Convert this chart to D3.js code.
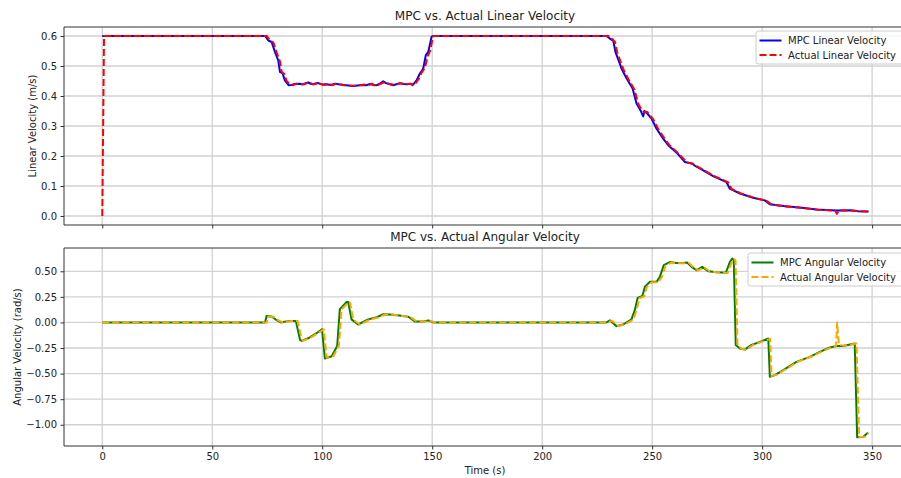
<!DOCTYPE html>
<html>
<head>
<meta charset="utf-8">
<script src="https://cdn.jsdelivr.net/npm/d3@7"></script>
<style>
  body { margin: 0; background: #fff; }
  svg { display: block; font-family: "DejaVu Sans", sans-serif; }
</style>
</head>
<body>
<svg class="Chart" width="901" height="478"></svg>
<script>
/* Data: [time (s), value] */
const mpcLinear = [
  [0, 0.6], [74, 0.6], [75.5, 0.585], [77, 0.58], [78.5, 0.547], [80, 0.519], [80.8, 0.48],
  [82, 0.475], [83, 0.452], [84.7, 0.436], [86, 0.437], [87.5, 0.44], [89.9, 0.441], [91, 0.438],
  [92.5, 0.443], [93.6, 0.445], [95, 0.44], [95.9, 0.439], [97, 0.442], [98.2, 0.443], [100, 0.438],
  [102, 0.439], [104, 0.437], [105.8, 0.441], [107.5, 0.439], [109.6, 0.437], [112, 0.435],
  [114.1, 0.433], [116, 0.435], [118.6, 0.437], [120, 0.436], [121.7, 0.44], [123, 0.437],
  [124.7, 0.436], [126, 0.44], [127.7, 0.449], [129, 0.443], [130, 0.441], [132.3, 0.436],
  [134, 0.44], [135.3, 0.443], [137, 0.44], [138.4, 0.439], [140, 0.441], [141.1, 0.436],
  [142.9, 0.452], [144.4, 0.475], [145.9, 0.491], [147.1, 0.536], [148.2, 0.547], [149.7, 0.597],
  [150.3, 0.6], [229.3, 0.6], [231, 0.59], [232.3, 0.585], [233.3, 0.547], [236.1, 0.491],
  [238.4, 0.458], [241.1, 0.425], [242.9, 0.375], [244.7, 0.352], [245.9, 0.332], [246.5, 0.35],
  [247.4, 0.345], [249.7, 0.325], [252, 0.291], [255, 0.258], [257.3, 0.236], [261.1, 0.211],
  [264.9, 0.18], [267.9, 0.175], [270, 0.165], [273.2, 0.152], [277.7, 0.133], [283.8, 0.113],
  [285.3, 0.091], [289.9, 0.075], [295.9, 0.061], [301.2, 0.052], [303.5, 0.039], [309.7, 0.033],
  [317.1, 0.028], [324.7, 0.022], [333.8, 0.018], [339.9, 0.019], [343.7, 0.016], [348.4, 0.015]
];
const actualLinear = [
  [0, 0], [0.8, 0.6], [74.8, 0.6], [76.3, 0.585], [77.8, 0.578], [79.3, 0.545], [80.8, 0.515],
  [81.6, 0.48], [82.8, 0.473], [83.8, 0.45], [85.5, 0.437], [86.8, 0.436], [88.3, 0.441],
  [90.7, 0.44], [91.8, 0.439], [93.3, 0.444], [94.4, 0.444], [95.8, 0.439], [96.7, 0.44],
  [97.8, 0.443], [99, 0.441], [100.8, 0.437], [102.8, 0.44], [104.8, 0.436], [106.6, 0.442],
  [108.3, 0.438], [110.4, 0.436], [112.8, 0.434], [114.9, 0.434], [116.8, 0.436], [119.4, 0.438],
  [120.8, 0.435], [122.5, 0.441], [123.8, 0.436], [125.5, 0.437], [126.8, 0.441], [128.5, 0.447],
  [129.8, 0.442], [130.8, 0.44], [133.1, 0.437], [134.8, 0.441], [136.1, 0.442], [137.8, 0.439],
  [139.2, 0.44], [140.8, 0.44], [141.9, 0.437], [143.7, 0.455], [145.2, 0.478], [146.7, 0.494],
  [147.9, 0.532], [149, 0.55], [150.4, 0.598], [151, 0.6], [230.1, 0.6], [231.8, 0.59],
  [233.1, 0.58], [234.1, 0.545], [236.9, 0.489], [239.2, 0.456], [241.9, 0.422], [243.7, 0.373],
  [245.5, 0.351], [246.7, 0.345], [247.8, 0.347], [248.2, 0.343], [250.5, 0.322], [252.8, 0.289],
  [255.8, 0.256], [258.1, 0.234], [261.9, 0.209], [265.7, 0.179], [268.7, 0.174], [270.8, 0.164],
  [274, 0.151], [278.5, 0.132], [284.6, 0.112], [286.1, 0.09], [290.7, 0.074], [296.7, 0.06],
  [302, 0.051], [304.3, 0.038], [310.5, 0.032], [317.9, 0.027], [325.5, 0.021], [333.2, 0.018],
  [334, 0.007], [334.8, 0.018], [340.7, 0.018], [344.5, 0.016], [348.4, 0.015]
];
const mpcAngular = [
  [0, 0], [74, 0], [74.7, 0.062], [77, 0.058], [79.3, 0.022], [81.2, 0], [83, 0.008],
  [85.3, 0.015], [88, 0.015], [89.9, -0.17], [90.6, -0.18], [93.6, -0.155], [96.7, -0.115],
  [99.9, -0.066], [101.2, -0.352], [104.3, -0.33], [106.8, -0.23], [108, 0.13], [111.1, 0.2],
  [111.8, 0.2], [113.3, 0.03], [116.3, -0.02], [120.9, 0.03], [124.7, 0.05], [127.7, 0.08],
  [130.8, 0.078], [135, 0.068], [139.1, 0.056], [142.1, 0.01], [146, 0.01], [148.2, 0.02],
  [150.5, 0], [229.3, 0], [230.8, 0.02], [233.8, -0.036], [236.8, -0.02], [240.6, 0.03],
  [242.1, 0.12], [243.4, 0.24], [245.6, 0.26], [246.7, 0.35], [249, 0.397], [252, 0.397],
  [253.5, 0.445], [255.3, 0.56], [258, 0.59], [261.1, 0.58], [264.1, 0.58], [265.9, 0.585],
  [267.9, 0.543], [270.2, 0.51], [272.7, 0.543], [275.5, 0.5], [279.3, 0.49], [283.5, 0.485],
  [285.3, 0.59], [286.4, 0.625], [287.1, 0.61], [288, -0.22], [289.9, -0.255], [292.1, -0.265],
  [295.2, -0.22], [299, -0.19], [302.8, -0.157], [303.5, -0.53], [305.8, -0.515], [309.6, -0.466],
  [315.6, -0.385], [321.7, -0.336], [326.2, -0.287], [330.8, -0.245], [333.8, -0.23],
  [336.8, -0.23], [342.1, -0.205], [343.2, -1.123], [345.9, -1.12], [348.2, -1.075]
];
const actualAngular = [
  [0, 0], [74.8, 0], [75.5, 0.058], [77.8, 0.055], [80.1, 0.02], [82, 0], [83.8, 0.008],
  [86.1, 0.014], [88.8, 0.014], [90.7, -0.165], [91.4, -0.178], [94.4, -0.152], [97.5, -0.112],
  [100.7, -0.068], [102, -0.345], [105.1, -0.328], [107.6, -0.225], [108.8, 0.128], [111.9, 0.198],
  [112.6, 0.196], [114.1, 0.028], [117.1, -0.02], [121.7, 0.028], [125.5, 0.048], [128.5, 0.078],
  [131.6, 0.077], [135.8, 0.066], [139.9, 0.054], [142.9, 0.01], [146.8, 0.01], [149, 0.018],
  [151.3, 0], [230.1, 0], [231.6, 0.018], [234.6, -0.034], [237.6, -0.019], [241.4, 0.028],
  [242.9, 0.118], [244.2, 0.236], [246.4, 0.256], [247.5, 0.345], [249.8, 0.393], [252.8, 0.394],
  [254.3, 0.44], [256.1, 0.555], [258.8, 0.587], [261.9, 0.578], [264.9, 0.578], [266.7, 0.582],
  [268.7, 0.54], [271, 0.508], [273.5, 0.54], [276.3, 0.498], [280.1, 0.488], [284.3, 0.483],
  [286.1, 0.585], [287.2, 0.62], [287.9, 0.605], [288.8, -0.225], [290.7, -0.258], [292.9, -0.265],
  [296, -0.218], [299.8, -0.19], [303.6, -0.16], [304.3, -0.525], [306.6, -0.51], [310.4, -0.462],
  [316.4, -0.382], [322.5, -0.333], [327, -0.285], [331.6, -0.243], [333.6, -0.232], [334.1, 0.0],
  [334.9, -0.22], [337.6, -0.228], [342.9, -0.205], [344.1, -1.12], [346.7, -1.118], [348.3, -1.08]
];

const xTicks = [0, 50, 100, 150, 200, 250, 300, 350];
const linearTicks = [0.0, 0.1, 0.2, 0.3, 0.4, 0.5, 0.6];
const angularTicks = [-1.0, -0.75, -0.5, -0.25, 0.0, 0.25, 0.5];

const svg = d3.select('.Chart');
const left = 64, right = 906;   // right spine sits just off the picture

const x = d3.scaleLinear().domain([-17.4, 365.4]).range([left, right]);

const panels = [
  {
    top: 27, bottom: 225, domain: [-0.03, 0.63], ticks: linearTicks, fmt: d3.format('.1f'),
    title: 'MPC vs. Actual Linear Velocity', ylabel: 'Linear Velocity (m/s)', ylabelX: 36,
    series: [
      { name: 'MPC Linear Velocity', data: mpcLinear, color: '#0000ff', dash: null },
      { name: 'Actual Linear Velocity', data: actualLinear, color: '#ff0000', dash: '7,3' }
    ],
    legend: { x: 756, y: 31, w: 148 }, showX: false
  },
  {
    top: 248, bottom: 446, domain: [-1.2075, 0.7275], ticks: angularTicks, fmt: d3.format('.2f'),
    title: 'MPC vs. Actual Angular Velocity', ylabel: 'Angular Velocity (rad/s)', ylabelX: 21,
    series: [
      { name: 'MPC Angular Velocity', data: mpcAngular, color: '#008000', dash: null },
      { name: 'Actual Angular Velocity', data: actualAngular, color: '#ffa500', dash: '7,3' }
    ],
    legend: { x: 748, y: 253, w: 156 }, showX: true
  }
];

panels.forEach((p, i) => {
  const y = d3.scaleLinear().domain(p.domain).range([p.bottom, p.top]);
  const g = svg.append('g');

  svg.append('clipPath').attr('id', 'clip' + i)
    .append('rect').attr('x', left).attr('y', p.top)
    .attr('width', right - left).attr('height', p.bottom - p.top);

  // grid
  g.append('g').selectAll('line').data(xTicks).enter().append('line')
    .attr('x1', d => x(d)).attr('x2', d => x(d))
    .attr('y1', p.top).attr('y2', p.bottom)
    .attr('stroke', '#d2d2d2').attr('stroke-width', 1.3);
  g.append('g').selectAll('line').data(p.ticks).enter().append('line')
    .attr('x1', left).attr('x2', right)
    .attr('y1', d => y(d)).attr('y2', d => y(d))
    .attr('stroke', '#d2d2d2').attr('stroke-width', 1.3);

  // lines
  const line = d3.line().x(d => x(d[0])).y(d => y(d[1]));
  p.series.forEach(s => {
    g.append('path')
      .datum(s.data)
      .attr('clip-path', 'url(#clip' + i + ')')
      .attr('fill', 'none')
      .attr('stroke', s.color)
      .attr('stroke-width', 2)
      .attr('stroke-dasharray', s.dash)
      .attr('stroke-linejoin', 'round')
      .attr('d', line);
  });

  // axes
  const xAxis = d3.axisBottom(x).tickValues(xTicks).tickSize(3.5).tickPadding(3.5)
    .tickFormat(p.showX ? d3.format('d') : '');
  const yAxis = d3.axisLeft(y).tickValues(p.ticks).tickSize(3.5).tickPadding(3.5)
    .tickFormat(d => p.fmt(d).replace('-', '\u2212'));

  const xg = g.append('g').attr('transform', `translate(0,${p.bottom})`).call(xAxis);
  const yg = g.append('g').attr('transform', `translate(${left},0)`).call(yAxis);
  [xg, yg].forEach(a => {
    a.select('.domain').remove();
    a.selectAll('line').attr('stroke', '#333');
    a.selectAll('text').attr('fill', '#222').style('font-size', '10px')
      .style('font-family', '"DejaVu Sans", sans-serif');
  });

  // spines (left, top, bottom)
  g.append('path')
    .attr('d', `M${right},${p.top}H${left}V${p.bottom}H${right}`)
    .attr('fill', 'none').attr('stroke', '#333').attr('stroke-width', 1);

  // title and y label
  g.append('text').attr('x', (left + right) / 2).attr('y', p.top - 7)
    .attr('text-anchor', 'middle').style('font-size', '12px').attr('fill', '#222')
    .text(p.title);
  g.append('text')
    .attr('transform', `translate(${p.ylabelX},${(p.top + p.bottom) / 2}) rotate(-90)`)
    .attr('text-anchor', 'middle').style('font-size', '10px').attr('fill', '#222')
    .text(p.ylabel);

  // legend
  const lg = g.append('g').attr('transform', `translate(${p.legend.x},${p.legend.y})`);
  lg.append('rect').attr('width', p.legend.w).attr('height', 33).attr('rx', 2.5)
    .attr('fill', 'white').attr('fill-opacity', 0.8)
    .attr('stroke', '#cccccc').attr('stroke-width', 1);
  p.series.forEach((s, k) => {
    const ly = 9.5 + k * 14.5;
    lg.append('line').attr('x1', 3.5).attr('x2', 25.5).attr('y1', ly).attr('y2', ly)
      .attr('stroke', s.color).attr('stroke-width', 2).attr('stroke-dasharray', s.dash);
    lg.append('text').attr('x', 32).attr('y', ly).attr('dy', '0.35em')
      .style('font-size', '10px').attr('fill', '#222').text(s.name);
  });
});

// shared x label
svg.append('text').attr('x', (left + right) / 2).attr('y', 474)
  .attr('text-anchor', 'middle').style('font-size', '10px').attr('fill', '#222')
  .text('Time (s)');
</script>
</body>
</html>
